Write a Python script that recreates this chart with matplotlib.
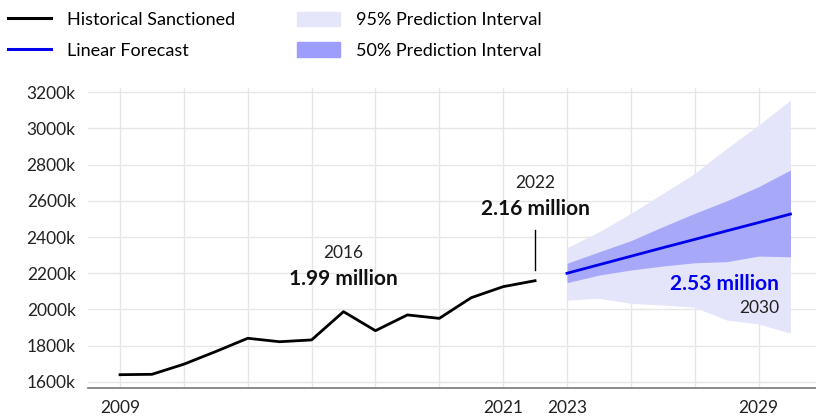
import matplotlib
matplotlib.use("Agg")
import matplotlib.pyplot as plt
from matplotlib.lines import Line2D
from matplotlib.patches import Patch

plt.rcParams['font.family'] = ['Lato', 'DejaVu Sans']

# historical sanctioned (thousands)
hist_years = [2009, 2010, 2011, 2012, 2013, 2014, 2015, 2016, 2017, 2018, 2019, 2020, 2021, 2022]
hist_values = [1640, 1642, 1698, 1768, 1841, 1822, 1832, 1988, 1883, 1970, 1951, 2065, 2126, 2159]

# forecast (thousands)
fc_years = [2023, 2024, 2025, 2026, 2027, 2028, 2029, 2030]
fc_values = [2200, 2247, 2294, 2341, 2387, 2434, 2480, 2527]
pi50_low = [2148, 2190, 2218, 2240, 2258, 2264, 2295, 2291]
pi50_high = [2255, 2318, 2380, 2457, 2531, 2600, 2678, 2770]
pi95_low = [2052, 2062, 2034, 2025, 2012, 1942, 1920, 1869]
pi95_high = [2341, 2429, 2531, 2640, 2751, 2889, 3018, 3156]

y_ticks = [1600, 1800, 2000, 2200, 2400, 2600, 2800, 3000, 3200]
x_grid = [2009, 2011, 2013, 2015, 2017, 2019, 2021, 2023, 2025, 2027, 2029]
x_labeled = [2009, 2021, 2023, 2029]

fig = plt.figure(figsize=(8.16, 4.18), dpi=100)
ax = fig.add_axes([0.108, 0.072, 0.892, 0.717])

c95 = '#e4e4fb'
c50 = '#a8a8f8'
blue = '#0000ee'
ax.fill_between(fc_years, pi95_low, pi95_high, color=c95, lw=0, zorder=1)
ax.fill_between(fc_years, pi50_low, pi50_high, color=c50, lw=0, zorder=2)
ax.plot(hist_years, hist_values, color='black', lw=2, zorder=3)
ax.plot(fc_years, fc_values, color=blue, lw=2, zorder=3)

ax.set_xlim(2008, 2030.8)
ax.set_ylim(1567, 3222)
ax.set_yticks(y_ticks)
ax.set_yticklabels([f"{v}k" for v in y_ticks])
ax.set_xticks(x_grid)
ax.set_xticklabels([str(y) if y in x_labeled else '' for y in x_grid])
ax.tick_params(length=0, labelsize=12.5, colors='#222222')
ax.tick_params(axis='y', pad=9)
ax.tick_params(axis='x', pad=9)
ax.grid(True, color='#e6e6e6', lw=1, zorder=0)
ax.set_axisbelow(True)
for s in ['top', 'right', 'left']:
    ax.spines[s].set_visible(False)
ax.spines['bottom'].set_color('#777777')
ax.spines['bottom'].set_linewidth(1.2)

# annotations
ax.text(2016.0, 2312, '2016', ha='center', va='center', fontsize=12.5, color='#222222')
ax.text(2016.0, 2168, '1.99 million', ha='center', va='center', fontsize=15,
        fontweight='bold', color='#111111')
ax.text(2022.0, 2698, '2022', ha='center', va='center', fontsize=12.5, color='#222222')
ax.text(2022.0, 2555, '2.16 million', ha='center', va='center', fontsize=15,
        fontweight='bold', color='#111111')
ax.plot([2022, 2022], [2218, 2438], color='black', lw=1, zorder=3)
ax.text(2029.65, 2141, '2.53 million', ha='right', va='center', fontsize=15,
        fontweight='bold', color=blue)
ax.text(2029.65, 2008, '2030', ha='right', va='center', fontsize=12.5, color='#222222')

leg_kw = dict(loc='upper left', frameon=False, fontsize=13, handlelength=2.4,
              handleheight=0.85, labelspacing=0.78, handletextpad=0.85,
              borderaxespad=0, borderpad=0)
fig.legend([Line2D([], [], color='black', lw=2.2), Line2D([], [], color=blue, lw=2.2)],
           ['Historical Sanctioned', 'Linear Forecast'],
           bbox_to_anchor=(0.010, 0.972), **leg_kw)
fig.legend([Patch(color='#e6e6fa'), Patch(color='#9d9dfd')],
           ['95% Prediction Interval', '50% Prediction Interval'],
           bbox_to_anchor=(0.364, 0.972), **leg_kw)

fig.savefig('out.png', dpi=100)
